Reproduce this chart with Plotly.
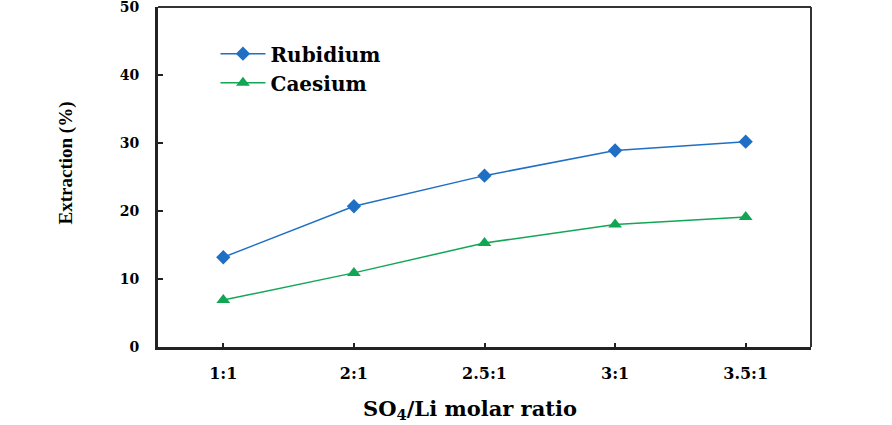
import plotly.graph_objects as go

categories = ["1:1", "2:1", "2.5:1", "3:1", "3.5:1"]
rubidium = [13.2, 20.7, 25.2, 28.9, 30.2]
caesium = [6.9, 10.9, 15.3, 18.0, 19.1]
y_ticks = [0, 10, 20, 30, 40, 50]

WIDE = "DejaVu Serif"
SERIF = "Liberation Serif"

fig = go.Figure()
fig.add_trace(go.Scatter(
    x=categories, y=rubidium, name="Rubidium", mode="lines+markers",
    legendgroup="rb",
    line=dict(color="#1f6fc5", width=1.5),
    marker=dict(symbol="diamond", size=11, color="#1f6fc5"),
))
fig.add_trace(go.Scatter(
    x=categories, y=caesium, name="Caesium", mode="lines+markers",
    legendgroup="cs",
    line=dict(color="#13a656", width=1.5),
    marker=dict(symbol="triangle-up", size=12, color="#10a653"),
))

fig.update_layout(
    width=892, height=425,
    margin=dict(l=158, r=81, t=7, b=78),
    paper_bgcolor="white", plot_bgcolor="white",
    font=dict(family=WIDE, color="black"),
    showlegend=True,
    legend=dict(x=0.088, y=0.92, xanchor="left", yanchor="top",
                font=dict(family=WIDE, size=20, color="black", weight="bold"),
                tracegroupgap=0, itemwidth=45,
                bgcolor="rgba(0,0,0,0)"),
    xaxis=dict(
        type="category", range=[-0.5, 4.5], automargin=False,
        showline=True, linecolor="#222", linewidth=3,
        ticks="inside", ticklen=4, tickwidth=2, tickcolor="#222",
        tickfont=dict(family=WIDE, size=16, color="black", weight="bold"),
        ticklabelstandoff=10,
        showgrid=False, zeroline=False,
    ),
    yaxis=dict(
        range=[0, 50], tickvals=y_ticks, automargin=False,
        showline=True, linecolor="#222", linewidth=3,
        ticks="inside", ticklen=5, tickwidth=2, tickcolor="#222",
        tickfont=dict(family=WIDE, size=14, color="black", weight="bold"),
        ticklabelstandoff=13, ticklabeloverflow="allow",
        showgrid=False, zeroline=False,
    ),
)
# top and right frame lines
fig.add_shape(type="line", xref="paper", yref="paper", x0=0, x1=1, y0=1, y1=1,
              line=dict(color="#333", width=2))
fig.add_shape(type="line", xref="paper", yref="paper", x0=1, x1=1, y0=0, y1=1,
              line=dict(color="#333", width=2))
fig.add_annotation(text="<b>SO<sub>4</sub>/Li molar ratio</b>", xref="paper", yref="paper",
                   x=0.478, y=-0.183, xanchor="center", yanchor="middle", showarrow=False,
                   font=dict(family=WIDE, size=21, color="black"))
fig.add_annotation(text="<b>Extraction (%)</b>", xref="paper", yref="paper",
                   x=-0.141, y=0.5425, xanchor="center", yanchor="middle", showarrow=False,
                   textangle=-90, font=dict(family=SERIF, size=19, color="black"))

fig.write_html("out.html", config={"displayModeBar": False},
               post_script="document.body.style.margin='0';")
